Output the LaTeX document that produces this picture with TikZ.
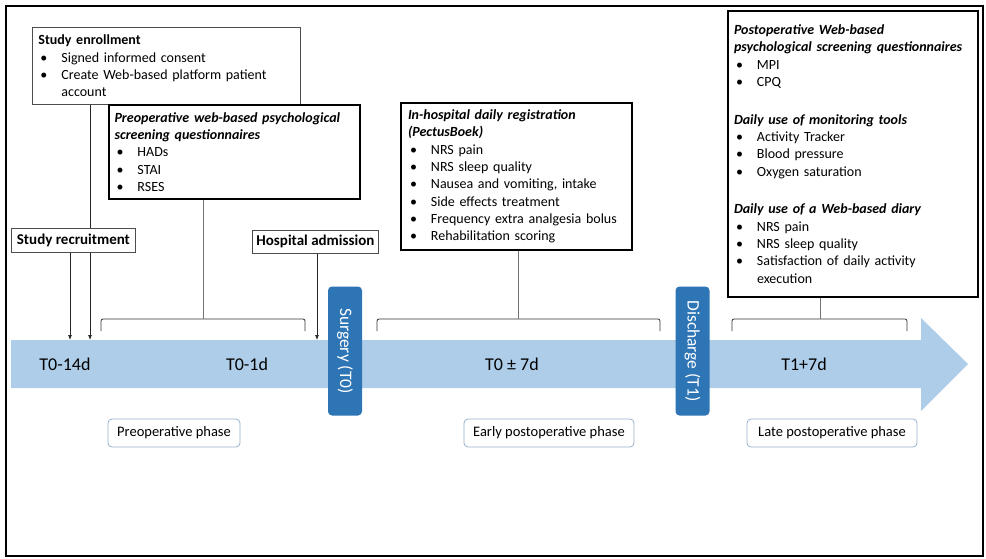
\documentclass[tikz,border=0pt]{standalone}
\usepackage{fontspec}
\setmainfont{Carlito}
\usepackage{xcolor}
\usepackage{tikz}
\usetikzlibrary{arrows.meta}

\definecolor{bandblue}{RGB}{174,205,232}
\definecolor{darkblue}{RGB}{46,117,182}
\definecolor{phaseline}{RGB}{150,176,202}
\newcommand{\bul}{\makebox[23pt][l]{\hspace{2pt}\textbullet}}
\newcommand{\cont}{\hspace*{23pt}}

\begin{document}
\begin{tikzpicture}[x=1pt, y=-1pt, font=\fontsize{14}{17.3}\selectfont]
                \tikzstyle{infobox} = [rectangle, draw=black!70, line width=0.8pt, fill=white, anchor=north west, align=left, inner xsep=6pt, inner ysep=0pt]
                \tikzstyle{keybox} = [rectangle, draw=black, line width=2pt, fill=white, anchor=north west, align=left, inner xsep=7pt, inner ysep=0pt]
                \tikzstyle{eventbox} = [rectangle, draw=black!70, line width=0.8pt, fill=white, anchor=north west, inner sep=0pt, font=\fontsize{15}{17}\selectfont\bfseries]
                \tikzstyle{milestone} = [rectangle, rounded corners=4pt, fill=darkblue, text=white, rotate=-90, minimum width=129pt, minimum height=34pt, inner sep=0pt, font=\fontsize{17.5}{19}\selectfont]
                \tikzstyle{phase} = [rectangle, rounded corners=4pt, draw=phaseline, line width=0.8pt, minimum height=28pt, inner sep=0pt, font=\fontsize{14.5}{17}\selectfont]
                \tikzstyle{period} = [font=\fontsize{18}{20}\selectfont]
                \tikzstyle{arrow} = [line width=0.7pt, draw=black!85, -{Latex[length=5pt,width=4pt]}]
                \tikzstyle{stem} = [line width=0.8pt, draw=black!55]
                \tikzstyle{bracket} = [line width=0.8pt, draw=black!80, rounded corners=2pt]

                \useasboundingbox (0,0) rectangle (986,558);
                \draw [line width=1.8pt] (6,6) rectangle (983,556);

                \fill [bandblue] (11,340) -- (921,340) -- (921,318) -- (968,364) -- (921,411) -- (921,388) -- (11,388) -- cycle;

                \coordinate (recruit end) at (70,340);
                \coordinate (enroll end) at (90,340);
                \coordinate (admit end) at (317,340);
                \coordinate (preop tip) at (203,319);
                \coordinate (hosp tip) at (518,319);
                \coordinate (postop tip) at (820,319);

                \node (enroll) [infobox, minimum height=77pt, text width=256pt] at (32,27) {\noindent\textbf{Study enrollment}\\ \bul Signed informed consent\\ \bul Create Web-based platform patient\\ \cont account};
                \draw [arrow] (enroll.south -| enroll end) -- (enroll end);

                \node (preop) [keybox, minimum height=94pt, text width=240pt, inner xsep=5.5pt] at (108,104) {\noindent\textbf{\textit{Preoperative web-based psychological}}\\ \textbf{\textit{screening questionnaires}}\\ \bul HADs\\ \bul STAI\\ \bul RSES};
                \node (hosp) [keybox, minimum height=147pt, text width=217pt] at (400,102) {\noindent\textbf{\textit{In-hospital daily registration}}\\ \textbf{\textit{(PectusBoek)}}\\ \bul NRS pain\\ \bul NRS sleep quality\\ \bul Nausea and vomiting, intake\\ \bul Side effects treatment\\ \bul Frequency extra analgesia bolus\\ \bul Rehabilitation scoring};
                \node (postop) [keybox, minimum height=286pt, text width=238pt, inner xsep=6pt] at (727,10) {\noindent\textbf{\textit{Postoperative Web-based}}\\ \textbf{\textit{psychological screening questionnaires}}\\ \bul MPI\\ \bul CPQ\\[20.5pt] \textbf{\textit{Daily use of monitoring tools}}\\ \bul Activity Tracker\\ \bul Blood pressure\\ \bul Oxygen saturation\\[20.5pt] \textbf{\textit{Daily use of a Web-based diary}}\\ \bul NRS pain\\ \bul NRS sleep quality\\ \bul Satisfaction of daily activity\\ \cont execution};

                \node (recruit) [eventbox, minimum width=124pt, minimum height=24pt] at (11,228) {Study recruitment};
                \node (admit) [eventbox, minimum width=126pt, minimum height=23pt] at (252,230) {Hospital admission};

                \draw [arrow] (recruit.south -| recruit end) -- (recruit end);
                \draw [arrow] (admit.south -| admit end) -- (admit end);

                \draw [bracket] (101,331) -- (101,319) -- (305,319) -- (305,331);
                \draw [bracket] (377,331) -- (377,319) -- (660,319) -- (660,331);
                \draw [bracket] (732,331) -- (732,319) -- (907,319) -- (907,331);
                \draw [stem] (preop.south -| preop tip) -- (preop tip);
                \draw [stem] (hosp.south -| hosp tip) -- (hosp tip);
                \draw [stem] (postop.south -| postop tip) -- (postop tip);

                \node (t14) [period] at (65,364) {T0-14d};
                \node (t1) [period] at (247,364) {T0-1d};
                \node (t7) [period] at (512,364) {T0 ± 7d};
                \node (t17) [period] at (804,364) {T1+7d};

                \node (surgery) [milestone] at (345,351) {Surgery (T0)};
                \node (discharge) [milestone] at (692.5,351) {Discharge (T1)};

                \node (prephase) [phase, minimum width=132pt] at (174,433) {Preoperative phase};
                \node (earlyphase) [phase, minimum width=170pt] at (549,433) {Early postoperative phase};
                \node (latephase) [phase, minimum width=170pt] at (832,433) {Late postoperative phase};
            \end{tikzpicture}
\end{document}
